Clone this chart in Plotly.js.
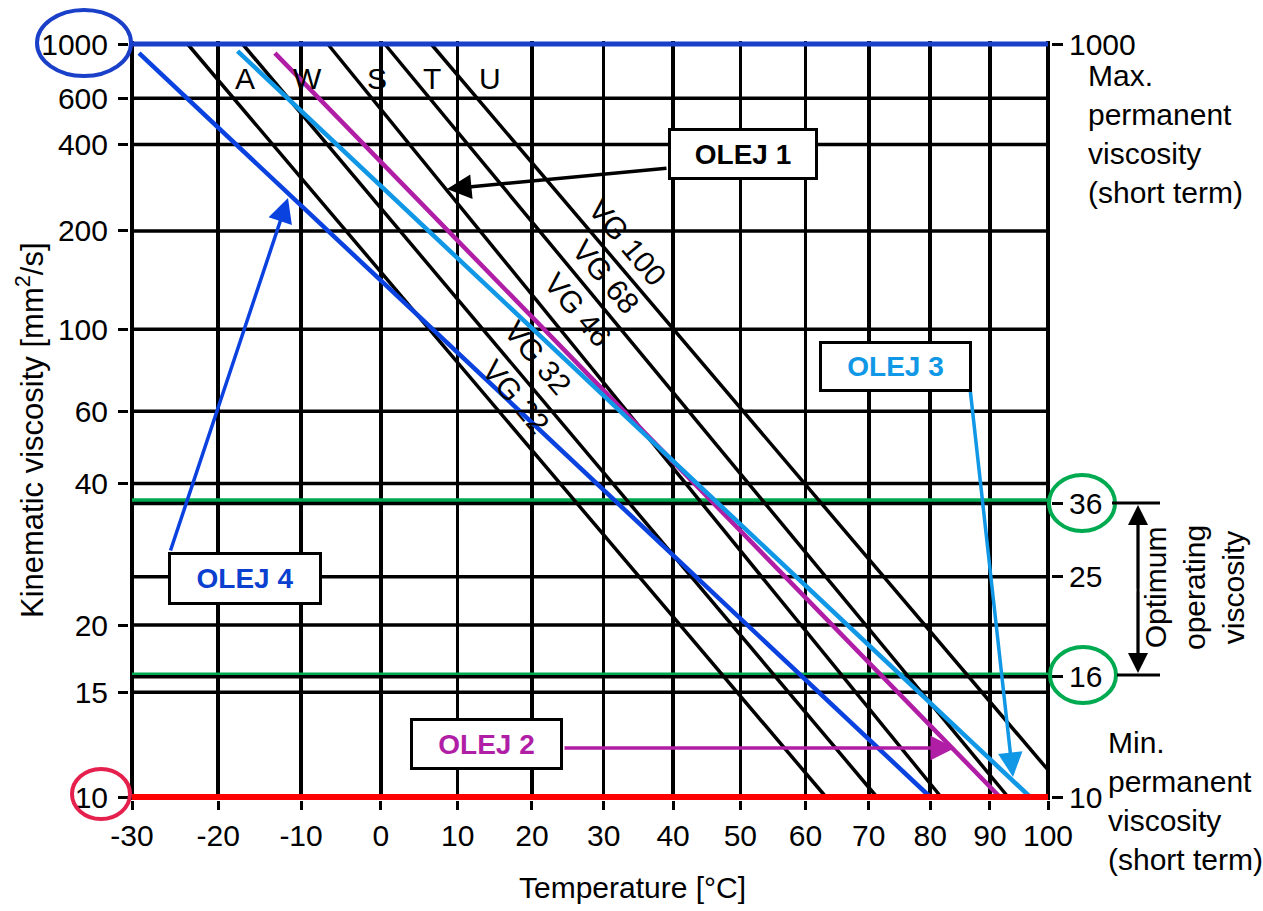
<!DOCTYPE html>
<html><head><meta charset="utf-8">
<script src="https://cdn.plot.ly/plotly-3.0.1.min.js"></script>
<style>html,body{margin:0;padding:0;background:#fff}#chart{width:1263px;height:911px}</style>
</head><body><div id="chart"></div>
<script>
// ---------- data ----------
const tempTicks = [-30,-20,-10,0,10,20,30,40,50,60,70,80,90,100];
const viscTicksLeft = [1000,600,400,200,100,60,40,20,15,10];
const viscTicksRight = [1000,36,25,16,10];
const viscGrid = [600,400,200,100,60,40,36,25,20,16,15];
const vgNames = ['VG 22','VG 32','VG 46','VG 68','VG 100'];
const vgTempStart = [-23.6,-17.1,-6.7,0.5,6.5];
const vgViscStart = [1000,1000,1000,1000,1000];
const vgTempEnd = [63.2,71.3,81.8,93.1,100];
const vgViscEnd = [10,10,10,10,11.05];
const oilNames = ['OLEJ 4','OLEJ 2','OLEJ 3'];
const oilTemp = [[-29.2,80.0],[-13.2,91.7],[-17.7,96.9]];
const oilVisc = [[915,10],[915,10],[933,10]];
const maxVisc = 1000, minVisc = 10;
const optLow = 16, optHigh = 36;
const letterNames = ['A','W','S','T','U'];

// ---------- scales (Ubbelohde-Walther chart) ----------
const X = t => Math.log10(t + 273.15);
const Y = v => Math.log10(Math.log10(v + 0.8));

// geometry of the plot frame in page pixels
const PL=132, PR=1048, PT=44, PB=797, PAD=3, W=1263, H=911;
const x0=X(-30), x1=X(100), y0=Y(10), y1=Y(1000);
const padX = PAD*(x1-x0)/(PR-PL), padY = PAD*(y1-y0)/(PB-PT);
const px = p => (p-(PL-PAD))/(PR-PL+2*PAD);
const py = p => 1-(p-(PT-PAD))/(PB-PT+2*PAD);

const FONT = 'Arial, "Liberation Sans", Helvetica, sans-serif';
const BLUE='#1a3fc8', OIL4='#0a42e0', MAG='#b01ea6', LBLUE='#1097e6', GREEN='#00aa50', RED='#ff0000', CRIMSON='#e5204c';
const LW=3.5;

const traces = [];
// horizontal grid lines
{
  const gx=[], gy=[];
  viscGrid.forEach(v=>{gx.push(X(-30),X(100),null); gy.push(Y(v),Y(v),null);});
  traces.push({x:gx,y:gy,mode:'lines',line:{color:'#000',width:LW},hoverinfo:'skip'});
}
// VG lines
vgNames.forEach((n,i)=>{
  traces.push({x:[X(vgTempStart[i]),X(vgTempEnd[i])],y:[Y(vgViscStart[i]),Y(vgViscEnd[i])],
    mode:'lines',line:{color:'#000',width:LW},name:n,hoverinfo:'skip'});
});
// oil lines
const oilColors=[OIL4,MAG,LBLUE];
oilNames.forEach((n,i)=>{
  traces.push({x:oilTemp[i].map(X),y:oilVisc[i].map(Y),mode:'lines',
    line:{color:oilColors[i],width:4.5},name:n,hoverinfo:'skip'});
});
// limit lines
traces.push({x:[X(-30),X(100)],y:[Y(maxVisc),Y(maxVisc)],mode:'lines',line:{color:BLUE,width:5},hoverinfo:'skip'});
traces.push({x:[X(-30),X(100)],y:[Y(minVisc),Y(minVisc)],mode:'lines',line:{color:RED,width:6},hoverinfo:'skip'});
// dummy for right axis
traces.push({x:[X(-30)],y:[Y(10)],yaxis:'y2',mode:'markers',marker:{opacity:0},hoverinfo:'skip'});

const shapes = [];
// optimum green lines (drawn just above their grid lines)
[[optHigh,3],[optLow,2]].forEach(([v,o])=>{
  shapes.push({type:'line',layer:'between',xref:'x',yref:'y',x0:X(-30),x1:X(100),
    ysizemode:'pixel',yanchor:Y(v),y0:o,y1:o,line:{color:GREEN,width:4.5}});
});
function ell(cx,cy,rx,ry,col){
  shapes.push({type:'circle',xref:'paper',yref:'paper',x0:px(cx-rx),x1:px(cx+rx),y0:py(cy+ry),y1:py(cy-ry),
    line:{color:col,width:4}});
}
ell(84,43,47,33,BLUE);
ell(101,794,29,25,CRIMSON);
ell(1082,503,33,28,GREEN);
ell(1083,675,33,28,GREEN);
function seg(ax_,ay_,bx,by,col,w){
  shapes.push({type:'line',xref:'paper',yref:'paper',x0:px(ax_),y0:py(ay_),x1:px(bx),y1:py(by),line:{color:col,width:w}});
}
seg(1112,503,1160,503,'#000',3);
seg(1117,675,1160,675,'#000',3);
seg(1138,520,1138,658,'#000',3);

const ann = [];
function txt(t,cx,cy,opt){
  ann.push(Object.assign({text:t,xref:'paper',yref:'paper',x:px(cx),y:py(cy),showarrow:false,
    xanchor:'center',yanchor:'middle',font:{family:FONT,size:30,color:'#000'}},opt||{}));
}
function box(t,cx,cy,w,h,col){
  ann.push({text:'<b>'+t+'</b>',xref:'paper',yref:'paper',x:px(cx),y:py(cy),showarrow:false,
    xanchor:'center',yanchor:'middle',width:w-6,height:h-6,borderpad:0,borderwidth:3,bordercolor:'#000',
    bgcolor:'#fff',font:{family:FONT,size:28,color:col}});
}
function arrow(hx,hy,tx,ty,col,size,w){
  ann.push({text:'',xref:'paper',yref:'paper',x:px(hx),y:py(hy),ax:tx-hx,ay:ty-hy,showarrow:true,
    arrowhead:2,arrowsize:size||1.4,arrowwidth:w||3.5,arrowcolor:col,standoff:0,startstandoff:0});
}
// arrows first so boxes cover their tails
arrow(447,189,668,168,'#000');
arrow(955,748,563,748,MAG);
arrow(1013,777,970,388,LBLUE);
arrow(288,198,170,552,OIL4);
arrow(1138,505,1138,590,'#000',1.6,2.5);
arrow(1138,673,1138,590,'#000',1.6,2.5);
box('OLEJ 1',743,154,150,52,'#000');
box('OLEJ 2',486,744,153,52,MAG);
box('OLEJ 3',895,366,153,51,LBLUE);
box('OLEJ 4',245,578,154,53,'#0a3fd0');
// VG labels
const vgLabelPos=[[516,396],[538,357],[578,309],[606,276],[628,242]];
vgNames.forEach((n,i)=>txt(n,vgLabelPos[i][0],vgLabelPos[i][1],{textangle:50,font:{family:FONT,size:30,color:'#000'}}));
// letters
const letterX=[245,307,377,432,490];
letterNames.forEach((l,i)=>txt(l,letterX[i],78,{font:{family:FONT,size:30,color:'#000'}}));
// side texts
txt('Max.<br>permanent<br>viscosity<br>(short term)',1086,134,{xanchor:'left',align:'left'});
txt('Min.<br>permanent<br>viscosity<br>(short term)',1106,801,{xanchor:'left',align:'left'});
txt('Optimum<br>operating<br>viscosity',1194,588,{textangle:-90});
// axis titles
txt('Temperature [°C]',632,887);
txt('Kinematic viscosity [mm<sup>2</sup>/s]',30,430,{textangle:-90,font:{family:FONT,size:31,color:'#000'}});

const tickFont={family:FONT,size:30,color:'#000'};
const layout = {
  width:W,height:H,showlegend:false,paper_bgcolor:'#fff',plot_bgcolor:'#fff',
  margin:{l:PL-PAD,r:W-(PR+PAD),t:PT-PAD,b:H-(PB+PAD),pad:0},
  xaxis:{range:[x0-padX,x1+padX],tickvals:tempTicks.map(X),ticktext:tempTicks.map(String),
    showgrid:true,gridcolor:'#000',gridwidth:LW,zeroline:false,showline:false,
    ticks:'outside',ticklen:9,tickwidth:3,tickcolor:'#000',tickfont:tickFont,fixedrange:true},
  yaxis:{range:[y0-padY,y1+padY],tickvals:viscTicksLeft.map(Y),ticktext:viscTicksLeft.map(String),
    showgrid:false,zeroline:false,showline:false,ticks:'outside',ticklen:10,tickwidth:3,tickcolor:'#000',
    tickfont:tickFont,ticklabelstandoff:4,fixedrange:true},
  yaxis2:{overlaying:'y',side:'right',range:[y0-padY,y1+padY],tickvals:viscTicksRight.map(Y),
    ticktext:viscTicksRight.map(String),showgrid:false,zeroline:false,showline:false,ticks:'outside',
    ticklen:11,tickwidth:3,tickcolor:'#000',tickfont:tickFont,fixedrange:true},
  shapes:shapes,annotations:ann
};
Plotly.newPlot('chart',traces,layout,{displayModeBar:false,staticPlot:true});
</script></body></html>
